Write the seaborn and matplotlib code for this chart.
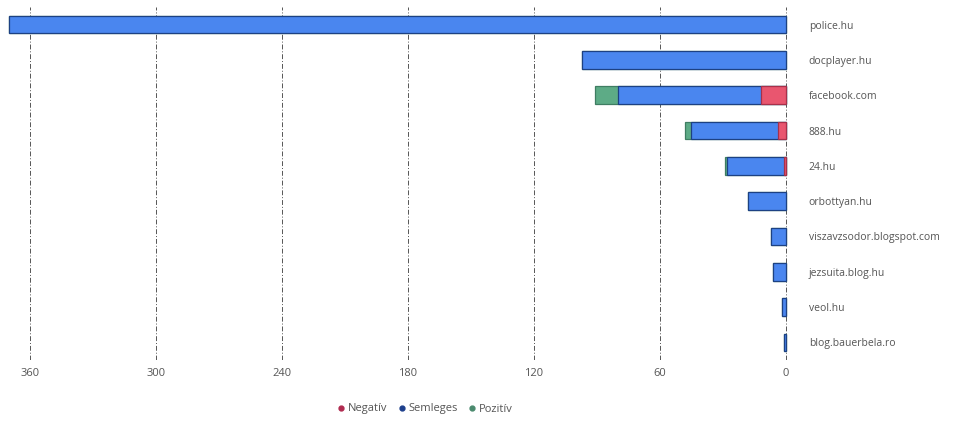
import numpy as np
import pandas as pd
import matplotlib
matplotlib.use("Agg")
import matplotlib.pyplot as plt
from matplotlib.lines import Line2D
import seaborn as sns

# Domains and sentiment counts
sites = ["police.hu", "docplayer.hu", "facebook.com", "888.hu", "24.hu",
         "orbottyan.hu", "viszavzsodor.blogspot.com", "jezsuita.blog.hu",
         "veol.hu", "blog.bauerbela.ro"]
negativ = [0, 0, 12, 4, 1, 0, 0, 0, 0, 0]
semleges = [370, 97, 68, 41, 27, 18, 7, 6, 2, 1]
pozitiv = [0, 0, 11, 3, 1, 0, 0, 0, 0, 0]
x_ticks = [360, 300, 240, 180, 120, 60, 0]

df = pd.DataFrame({"site": sites, "Negatív": negativ,
                   "Semleges": semleges, "Pozitív": pozitiv})
# cumulative widths for stacked drawing (drawn from widest to narrowest)
df["neg"] = df["Negatív"].replace(0, np.nan)
df["neg_sem"] = df["Negatív"] + df["Semleges"]
df["total"] = df["neg_sem"] + df["Pozitív"]

sns.set_style("white")
plt.rcParams["font.family"] = ["Open Sans", "DejaVu Sans"]

fig = plt.figure(figsize=(9.61, 4.21), dpi=100)
ax = fig.add_axes([5 / 961, 61 / 421, 783 / 961, 353 / 421])

layers = [("total", "#5dab86", "#3f7d62"),
          ("neg_sem", "#4a86ef", "#1d4183"),
          ("neg", "#e9566f", "#a8304a")]
for col, face, edge in layers:
    sns.barplot(data=df, x=col, y="site", orient="h", color=face,
                edgecolor=edge, linewidth=0.9, width=0.5, saturation=1,
                ax=ax)

ax.set_xlim(372, -1)
ax.set_xticks(x_ticks)
ax.set_xticklabels([str(t) for t in x_ticks], fontsize=8, color="#555555")
ax.xaxis.grid(True, color="#555555", linestyle=(0, (5, 2, 1, 2)), linewidth=0.7)
ax.set_axisbelow(True)
ax.yaxis.tick_right()
ax.tick_params(axis="y", length=0, pad=15, labelsize=7.5, labelcolor="#555555")
ax.tick_params(axis="x", length=0, pad=6)
ax.set_xlabel("")
ax.set_ylabel("")
for s in ax.spines.values():
    s.set_visible(False)

handles = [Line2D([], [], marker="o", linestyle="", markersize=3.5, color=c)
           for c in ["#b02a4f", "#1d3f8c", "#4a8a6e"]]
fig.legend(handles, ["Negatív", "Semleges", "Pozitív"], loc="center",
           bbox_to_anchor=(424 / 961, 1 - 409 / 421), ncol=3, frameon=False,
           fontsize=8, labelcolor="#555555", handletextpad=0.1,
           columnspacing=0.8, handlelength=1)

fig.savefig("out.png", dpi=100)
